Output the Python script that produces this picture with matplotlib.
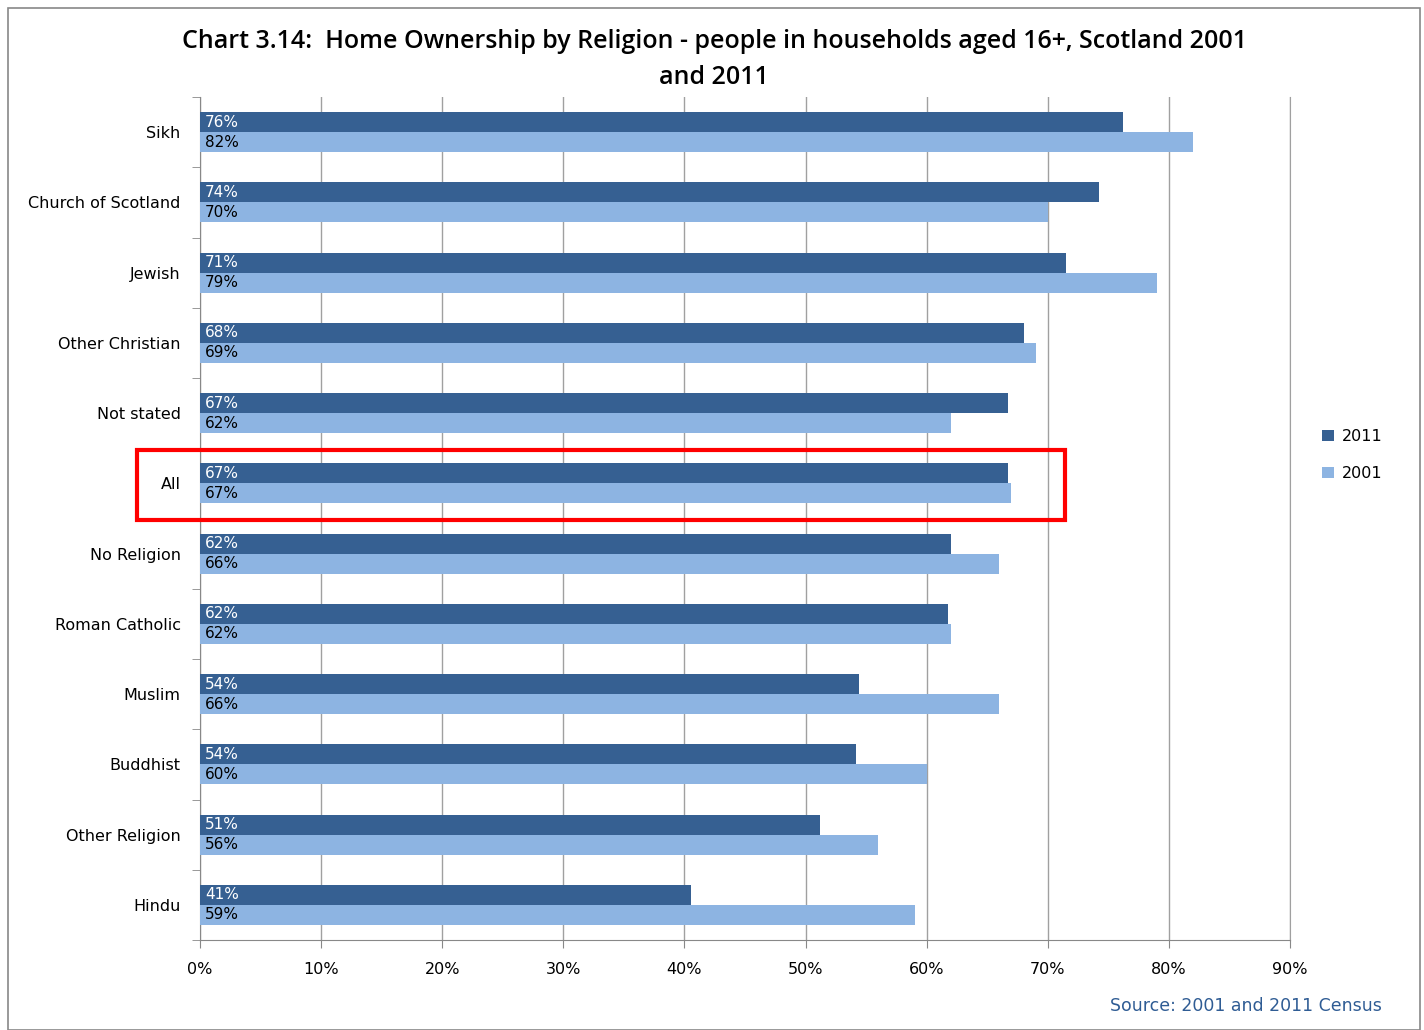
import matplotlib
matplotlib.use("Agg")
import matplotlib.pyplot as plt
import numpy as np
from matplotlib.patches import Rectangle

categories = ["Sikh", "Church of Scotland", "Jewish", "Other Christian", "Not stated", "All",
              "No Religion", "Roman Catholic", "Muslim", "Buddhist", "Other Religion", "Hindu"]
values_2011 = [76.2, 74.2, 71.5, 68.0, 66.7, 66.7, 62.0, 61.8, 54.4, 54.2, 51.2, 40.5]
values_2001 = [82.0, 70.0, 79.0, 69.0, 62.0, 67.0, 66.0, 62.0, 66.0, 60.0, 56.0, 59.0]
labels_2011 = ["76%", "74%", "71%", "68%", "67%", "67%", "62%", "62%", "54%", "54%", "51%", "41%"]
labels_2001 = ["82%", "70%", "79%", "69%", "62%", "67%", "66%", "62%", "66%", "60%", "56%", "59%"]
xticks = [0, 10, 20, 30, 40, 50, 60, 70, 80, 90]
xticklabels = ["0%", "10%", "20%", "30%", "40%", "50%", "60%", "70%", "80%", "90%"]

c2011 = "#366092"
c2001 = "#8DB4E2"

W, H = 1424, 1030
fig = plt.figure(figsize=(W / 100, H / 100), dpi=100)
fig.patch.set_facecolor("white")

# outer chart border
fig.add_artist(Rectangle((8 / W, 0), (1420 - 8) / W, 1 - 8 / H, transform=fig.transFigure,
                         fill=False, edgecolor="#888888", linewidth=1.2))

ax = fig.add_axes([200 / W, 1 - 940 / H, (1290 - 200) / W, (940 - 97) / H])
n = len(categories)
y = np.arange(n)
h = 0.285
ax.barh(y - h / 2, values_2011, height=h, color=c2011, label="2011", zorder=3)
ax.barh(y + h / 2, values_2001, height=h, color=c2001, label="2001", zorder=3)

for i in range(n):
    ax.text(0.4, y[i] - h / 2, labels_2011[i], color="white", fontsize=11,
            va="center", ha="left", zorder=4)
    ax.text(0.4, y[i] + h / 2, labels_2001[i], color="black", fontsize=11,
            va="center", ha="left", zorder=4)

ax.set_xlim(0, 90)
ax.set_ylim(n - 0.5, -0.5)
ax.set_xticks(xticks)
ax.set_xticklabels(xticklabels, fontsize=11.5)
ax.set_yticks(y)
ax.set_yticklabels(categories, fontsize=11.5)
ax.set_yticks(np.arange(n + 1) - 0.5, minor=True)
ax.tick_params(axis="y", which="major", length=0, pad=14)
ax.tick_params(axis="y", which="minor", length=6, color="#888888", direction="out")
ax.tick_params(axis="x", length=6, color="#888888", direction="out", pad=10)
ax.xaxis.grid(True, color="#A0A0A0", linewidth=1.0, zorder=0)
ax.set_axisbelow(True)
ax.spines["top"].set_visible(False)
ax.spines["right"].set_color("#A0A0A0")
for s in ["left", "bottom"]:
    ax.spines[s].set_color("#888888")

fig.text(714 / W, 1 - 42 / H, "Chart 3.14:  Home Ownership by Religion - people in households aged 16+, Scotland 2001",
         ha="center", va="center", fontsize=18, fontweight="semibold", family="Open Sans")
fig.text(714 / W, 1 - 77 / H, "and 2011", ha="center", va="center", fontsize=18,
         fontweight="semibold", family="Open Sans")

# highlight box around "All"
fig.add_artist(Rectangle((137 / W, 1 - 520 / H), (1065 - 137) / W, 70 / H, transform=fig.transFigure,
                         fill=False, edgecolor="#FF0000", linewidth=3))

leg = fig.legend(loc="center left", bbox_to_anchor=(1308 / W, 1 - 455 / H), frameon=False,
                 fontsize=11.5, handlelength=0.7, handleheight=0.7, handletextpad=0.5,
                 labelspacing=1.35)

fig.text(1382 / W, 1 - 1006 / H, "Source: 2001 and 2011 Census", ha="right", va="center",
         fontsize=12.5, color="#2F5C94")

fig.savefig("out.png", dpi=100)
